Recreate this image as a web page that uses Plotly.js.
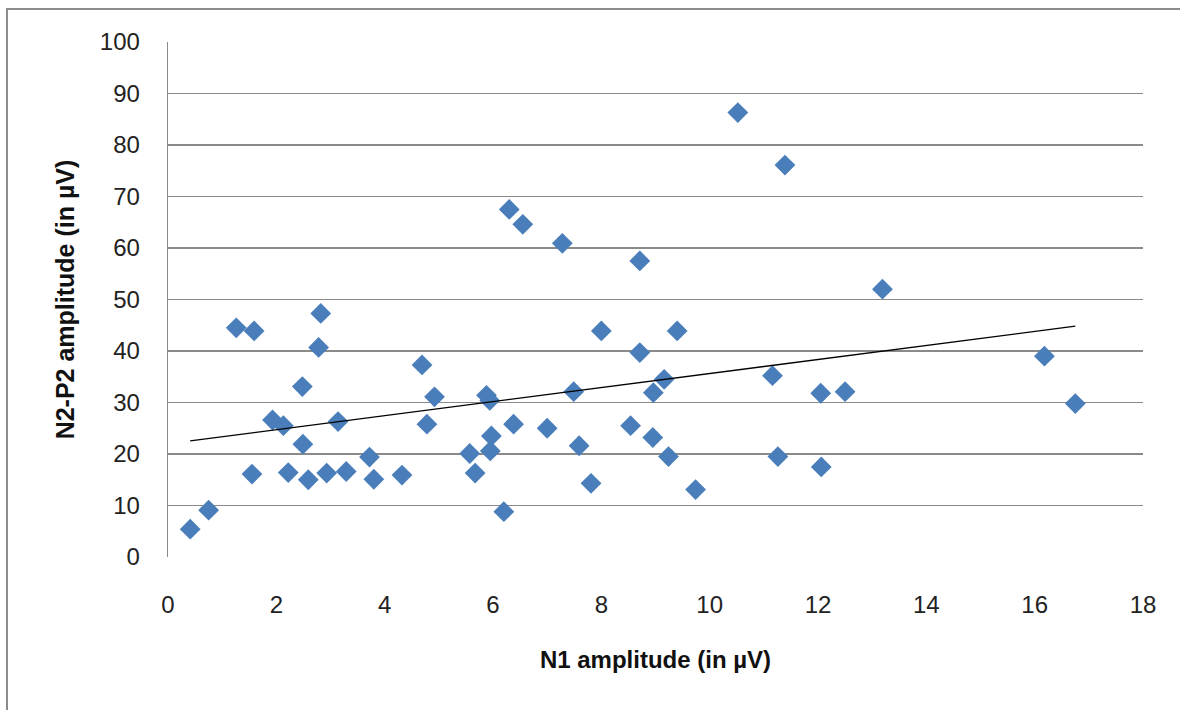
<!DOCTYPE html>
<html>
<head>
<meta charset="utf-8">
<script src="https://cdn.plot.ly/plotly-3.0.1.min.js"></script>
<style>
  html, body { margin: 0; padding: 0; background: #ffffff; }
  #frame { position: absolute; left: 6px; top: 8px; width: 1300px; height: 800px;
           border-left: 2px solid #8c8c8c; border-top: 2px solid #8c8c8c; }
  #chart { position: absolute; left: 0; top: 0; width: 1180px; height: 710px; }
</style>
</head>
<body>
<div id="frame"></div>
<div id="chart"></div>
<script>
// N1 amplitude (µV)
const n1Amplitude = [0.41, 0.75, 1.26, 1.59, 1.55, 1.93, 2.13, 2.22, 2.48, 2.49, 2.59, 2.78, 2.82, 2.93, 3.14, 3.29, 3.72, 3.80, 4.32, 4.69, 4.92, 4.78,
  6.30, 6.55, 7.28, 8.71, 8.00, 9.40, 8.71, 9.16, 8.96, 7.49, 5.88, 5.94, 6.38, 7.00, 5.97, 5.95, 5.57, 5.67, 6.20, 7.59, 7.81, 8.54, 8.95, 9.24, 9.74,
  10.52, 11.39, 13.19, 11.16, 12.05, 12.50, 11.26, 12.06, 16.18, 16.75];
// N2-P2 amplitude (µV)
const n2p2Amplitude = [5.4, 9.1, 44.5, 43.9, 16.1, 26.6, 25.5, 16.4, 33.1, 21.9, 15.0, 40.7, 47.3, 16.3, 26.3, 16.6, 19.4, 15.1, 15.9, 37.3, 31.1, 25.8,
  67.5, 64.6, 60.9, 57.5, 43.9, 43.9, 39.7, 34.5, 31.9, 32.1, 31.4, 30.4, 25.8, 25.0, 23.5, 20.6, 20.1, 16.3, 8.8, 21.6, 14.3, 25.5, 23.2, 19.5, 13.1,
  86.3, 76.1, 52.0, 35.2, 31.8, 32.1, 19.5, 17.5, 39.0, 29.8];
const xTicks = [0, 2, 4, 6, 8, 10, 12, 14, 16, 18];
const yTicks = [0, 10, 20, 30, 40, 50, 60, 70, 80, 90, 100];

// Linear least-squares trendline computed from the data
const n = n1Amplitude.length;
let sx = 0, sy = 0, sxx = 0, sxy = 0;
for (let i = 0; i < n; i++) {
  sx += n1Amplitude[i]; sy += n2p2Amplitude[i];
  sxx += n1Amplitude[i] * n1Amplitude[i]; sxy += n1Amplitude[i] * n2p2Amplitude[i];
}
const slope = (n * sxy - sx * sy) / (n * sxx - sx * sx);
const intercept = (sy - slope * sx) / n;
const xMin = Math.min(...n1Amplitude), xMax = Math.max(...n1Amplitude);
const trendX = [xMin, xMax];
const trendY = trendX.map(v => intercept + slope * v);

const font = "'Liberation Sans', Arial, sans-serif";

const data = [
  {
    x: n1Amplitude, y: n2p2Amplitude, type: 'scatter', mode: 'markers',
    marker: { symbol: 'diamond', size: 16, color: '#4a7ebb', line: { width: 0 } },
    hoverinfo: 'x+y', showlegend: false
  },
  {
    x: trendX, y: trendY, type: 'scatter', mode: 'lines',
    line: { color: '#000000', width: 1.3 }, hoverinfo: 'skip', showlegend: false
  }
];

const layout = {
  width: 1180, height: 710,
  margin: { l: 168, r: 37, t: 42, b: 153 },
  paper_bgcolor: 'rgba(0,0,0,0)', plot_bgcolor: 'rgba(0,0,0,0)',
  font: { family: font, color: '#000000' },
  xaxis: {
    range: [0, 18], tickvals: xTicks, ticktext: xTicks.map(String),
    showgrid: false, zeroline: false, showline: false,
    ticks: 'outside', ticklen: 26, tickcolor: 'rgba(0,0,0,0)',
    tickfont: { size: 24, family: font, color: '#222' },
    title: { text: '<b>N1 amplitude (in µV)</b>', font: { size: 24, family: font, color: '#111' }, standoff: 34 },
    fixedrange: true
  },
  yaxis: {
    range: [0, 100], tickvals: yTicks, ticktext: yTicks.map(String),
    showgrid: true, gridcolor: '#8a8a8a', gridwidth: 1.3,
    zeroline: false, showline: true, linecolor: '#8a8a8a', linewidth: 1.3,
    ticks: 'outside', ticklen: 22, tickcolor: 'rgba(0,0,0,0)',
    tickfont: { size: 24, family: font, color: '#222' },
    title: { text: '<b>N2-P2 amplitude (in µV)</b>', font: { size: 25, family: font, color: '#111' }, standoff: 18 },
    fixedrange: true
  }
};

Plotly.newPlot('chart', data, layout, { displayModeBar: false, staticPlot: true });
</script>
</body>
</html>
